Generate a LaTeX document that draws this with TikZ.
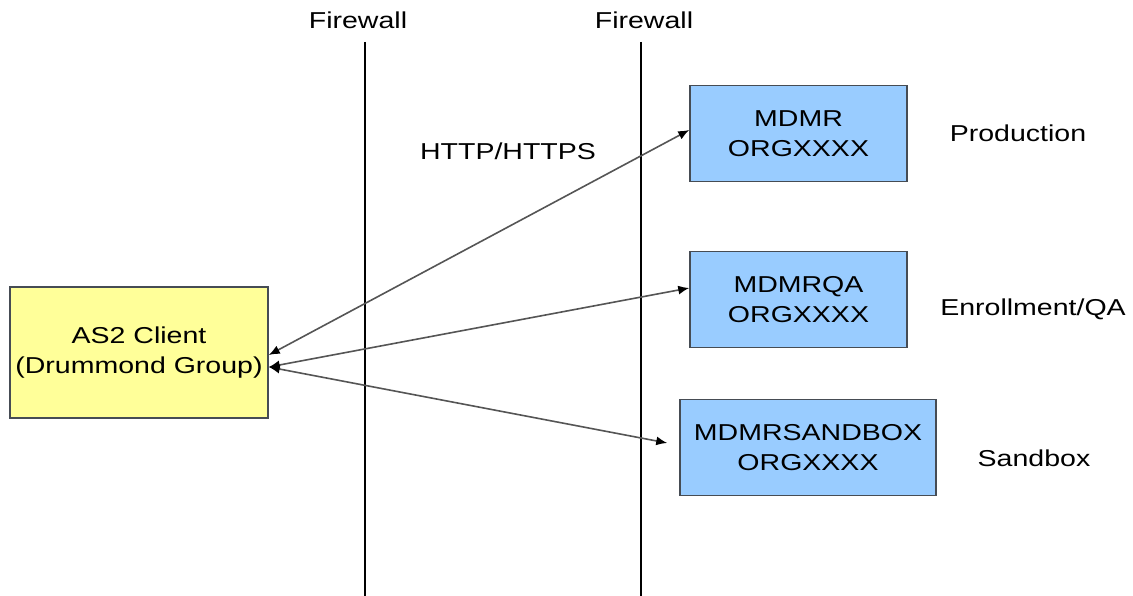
\documentclass[tikz,border=0pt]{standalone}
\usepackage{fontspec}
\setmainfont{Liberation Sans}[FakeStretch=1.24]
\usetikzlibrary{arrows.meta}

\definecolor{clientyellow}{RGB}{255,255,153}
\definecolor{serverblue}{RGB}{153,204,255}
\definecolor{boxedge}{RGB}{70,76,84}
\definecolor{linkgray}{RGB}{85,85,85}

\begin{document}
\begin{tikzpicture}[x=1pt, y=-1pt,
        every node/.style={font=\fontsize{23}{30}\selectfont, align=center},
        client/.style={draw=boxedge, line width=1.5pt, fill=clientyellow,
                       minimum width=258, minimum height=131},
        server/.style={draw=boxedge, line width=1.5pt, fill=serverblue,
                       minimum height=96},
        link/.style={draw=linkgray, line width=1.6pt,
                     {Latex[length=11pt,width=9pt,black]}-{Latex[length=11pt,width=9pt,black]}}]
        \useasboundingbox (0,0) rectangle (1133,596);

        % firewalls
        \node (fw1) at (358,20) {Firewall};
        \node (fw2) at (644,20) {Firewall};
        \coordinate (fw1b) at (365,596);
        \coordinate (fw2b) at (641,596);
        \draw [line width=1.5pt] (365,42) -- (fw1b);
        \draw [line width=1.5pt] (641,42) -- (fw2b);

        % client side
        \node [client] (client) at (139,352.5) {AS2 Client\\(Drummond Group)};

        % servers
        \node [server, minimum width=217] (prod) at (798.5,133.5) {MDMR\\ORGXXXX};
        \node [server, minimum width=217] (qa) at (798.5,299.5) {MDMRQA\\ORGXXXX};
        \node [server, minimum width=256] (sbox) at (808,447.5) {MDMRSANDBOX\\ORGXXXX};

        \node (prodlbl) at (1018,133) {Production};
        \node (qalbl) at (1033,309) {Enrollment/QA};
        \node (sboxlbl) at (1034,458) {Sandbox};

        \node (proto) at (508,151) {HTTP/HTTPS};

        % links
        \draw [link] ([yshift=-2.5]client.east) -- ([yshift=3.5]prod.west);
        \draw [link] ([yshift=-14.5]client.east) -- ([yshift=11.5]qa.west);
        \draw [link] ([yshift=-14.5]client.east) -- ([xshift=-12,yshift=4.5]sbox.west);
    \end{tikzpicture}
\end{document}
